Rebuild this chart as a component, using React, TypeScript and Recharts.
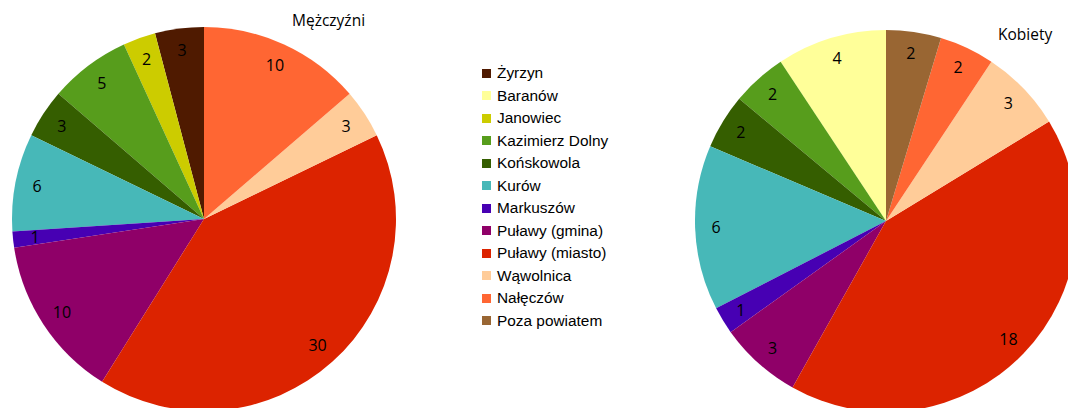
import { PieChart, Pie, Cell, Legend } from 'recharts';

const gminy = [
  'Żyrzyn',
  'Baranów',
  'Janowiec',
  'Kazimierz Dolny',
  'Końskowola',
  'Kurów',
  'Markuszów',
  'Puławy (gmina)',
  'Puławy (miasto)',
  'Wąwolnica',
  'Nałęczów',
  'Poza powiatem',
];

const mezczyzni = [3, 0, 2, 5, 3, 6, 1, 10, 30, 3, 10, 0];
const kobiety = [0, 4, 0, 2, 2, 6, 1, 3, 18, 3, 2, 2];

const colors = [
  '#4f1a00',
  '#ffff99',
  '#cccc00',
  '#579d1c',
  '#355e00',
  '#47b8b8',
  '#4700b3',
  '#8f0068',
  '#dc2300',
  '#ffcc99',
  '#ff6633',
  '#996633',
];

const menData = gminy.map((name, i) => ({ name, value: mezczyzni[i] }));
const womenData = gminy.map((name, i) => ({ name, value: kobiety[i] }));

const RAD = Math.PI / 180;

function renderLabel(props: any) {
  const { cx, cy, midAngle, value } = props;
  if (!value) return null;
  const r = 170;
  const x = cx + r * Math.cos(-midAngle * RAD);
  const y = cy + r * Math.sin(-midAngle * RAD);
  return (
    <text
      x={x}
      y={y}
      fill="#000"
      fontSize={16}
      fontFamily="'Open Sans', sans-serif"
      textAnchor="middle"
      dominantBaseline="central"
    >
      {value}
    </text>
  );
}

function LegendList() {
  return (
    <div style={{ fontFamily: "'Liberation Sans', Arial, sans-serif", fontSize: 15.4, color: '#000' }}>
      {gminy.map((name, i) => (
        <div key={name} style={{ display: 'flex', alignItems: 'center', height: 22.5 }}>
          <span style={{ width: 9, height: 9, background: colors[i], marginRight: 6, display: 'inline-block' }} />
          <span>{name}</span>
        </div>
      ))}
    </div>
  );
}

export default function App() {
  return (
    <div style={{ position: 'relative', width: 1060, height: 400 }}>
      <PieChart width={1060} height={400}>
        <Pie
          data={menData}
          dataKey="value"
          nameKey="name"
          cx={191}
          cy={206}
          outerRadius={192}
          startAngle={90}
          endAngle={450}
          stroke="none"
          labelLine={false}
          label={renderLabel}
          isAnimationActive={false}
        >
          {menData.map((d, i) => (
            <Cell key={d.name} fill={colors[i]} />
          ))}
        </Pie>
        <Pie
          data={womenData}
          dataKey="value"
          nameKey="name"
          cx={873}
          cy={208}
          outerRadius={191}
          startAngle={90}
          endAngle={450}
          stroke="none"
          labelLine={false}
          label={renderLabel}
          isAnimationActive={false}
        >
          {womenData.map((d, i) => (
            <Cell key={d.name} fill={colors[i]} />
          ))}
        </Pie>
        <Legend
          layout="vertical"
          content={() => <LegendList />}
          wrapperStyle={{ position: 'absolute', left: 474, top: 54, width: 170 }}
        />
      </PieChart>
      <div
        style={{
          position: 'absolute',
          left: 284,
          top: 1,
          fontFamily: "'Open Sans', sans-serif",
          fontSize: 15.5,
          color: '#000',
        }}
      >
        Mężczyźni
      </div>
      <div
        style={{
          position: 'absolute',
          left: 990,
          top: 15,
          fontFamily: "'Open Sans', sans-serif",
          fontSize: 15.5,
          color: '#000',
        }}
      >
        Kobiety
      </div>
    </div>
  );
}
